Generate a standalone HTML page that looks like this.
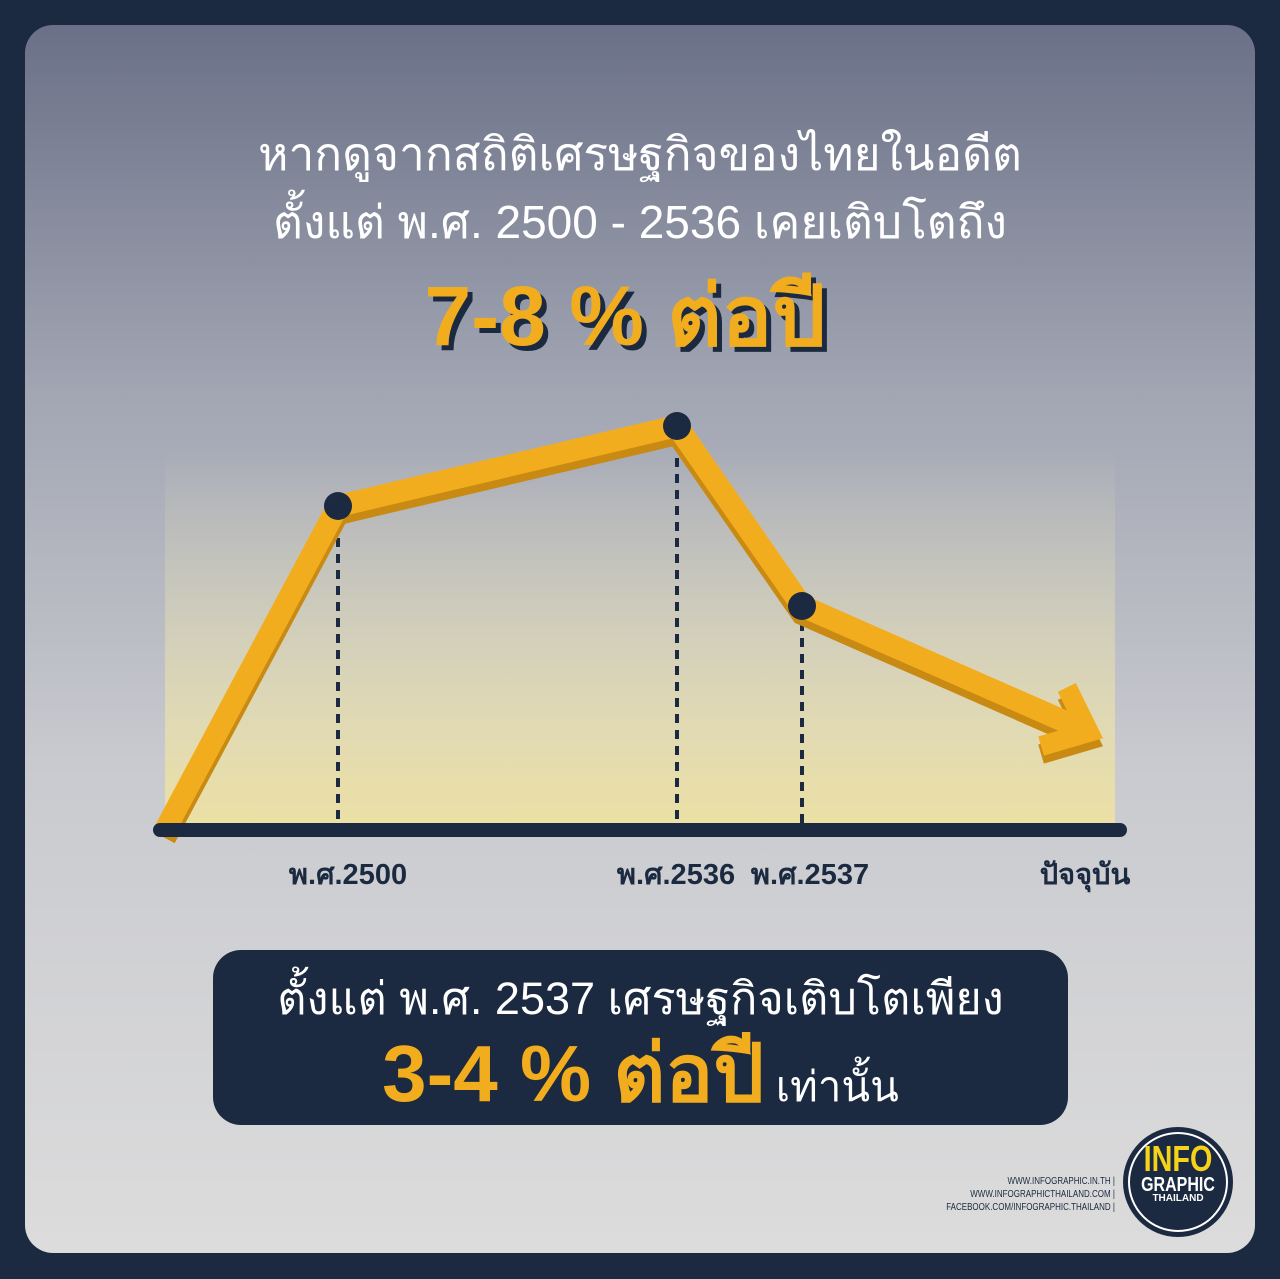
<!DOCTYPE html>
<html><head><meta charset="utf-8"><style>
body{margin:0;width:1280px;height:1279px;background:#1b2a40;overflow:hidden;font-family:"Liberation Sans","DejaVu Sans",sans-serif}
#card{position:absolute;left:25px;top:25px;width:1230px;height:1228px;border-radius:28px;background:linear-gradient(#6a7087 0%,#a2a6b3 30%,#c9cacf 60%,#dcdcdc 100%);overflow:hidden}
.t{position:absolute;left:0;width:1230px;text-align:center;white-space:nowrap}
</style></head><body>
<div id="card">
<div class="t" style="top:93px;font-size:46px;color:#fff">หากดูจากสถิติเศรษฐกิจของไทยในอดีต</div>
<div class="t" style="top:161px;font-size:46px;color:#fff">ตั้งแต่ พ.ศ. 2500 - 2536 เคยเติบโตถึง</div>
<div class="t" style="top:223px;left:-15px;font-size:84px;font-weight:bold;color:#f2ad1e;text-shadow:5px 5px 0 #1b2a40">7-8 % ต่อปี</div>
<div style="position:absolute;left:188px;top:925px;width:855px;height:175px;border-radius:28px;background:#1b2a40">
 <div style="position:absolute;top:12px;width:855px;text-align:center;font-size:45px;color:#fff;white-space:nowrap">ตั้งแต่ พ.ศ. 2537 เศรษฐกิจเติบโตเพียง</div>
 <div style="position:absolute;top:60px;width:855px;text-align:center;white-space:nowrap;color:#fff;font-size:42px"><span style="font-size:80px;font-weight:bold;color:#f2ad1e">3-4 % ต่อปี</span> เท่านั้น</div>
</div>
<div style="position:absolute;right:140px;top:1150px;text-align:right;font-size:10px;line-height:13px;color:#1b2a40;transform:scaleX(.8);transform-origin:right">WWW.INFOGRAPHIC.IN.TH |<br>WWW.INFOGRAPHICTHAILAND.COM |<br>FACEBOOK.COM/INFOGRAPHIC.THAILAND |</div>
<div style="position:absolute;left:1098px;top:1102px;width:110px;height:110px;border-radius:50%;background:#1b2a40;text-align:center;font-weight:bold">
 <div style="position:absolute;inset:5px;border:2px solid #fff;border-radius:50%"></div>
 <div style="position:relative;top:14px;color:#f5d31b;font-size:36px;line-height:36px;transform:scaleX(.8)">INFO</div>
 <div style="position:relative;top:12px;color:#fff;font-size:20px;line-height:20px;transform:scaleX(.8)">GRAPHIC</div>
 <div style="position:relative;top:10px;color:#fff;font-size:10px">THAILAND</div>
</div>
</div>
<svg id="chart" width="1280" height="1279" style="position:absolute;left:0;top:0">
<defs><linearGradient id="bg" x1="0" y1="0" x2="0" y2="1"><stop offset="0" stop-color="#e8e2b8" stop-opacity="0"/><stop offset="1" stop-color="#ece0a4"/></linearGradient></defs>
<rect x="165" y="450" width="950" height="380" fill="url(#bg)"/>
<g id="g"></g>
</svg>
<script>
const categories=["start","พ.ศ.2500","พ.ศ.2536","พ.ศ.2537","ปัจจุบัน"];
const values=[0,8.1,10.1,5.6,2.6];
const tickLabels=["","พ.ศ.2500","พ.ศ.2536","พ.ศ.2537","ปัจจุบัน"];
const slot=[165,338,677,802,1075];
function x(i){return slot[i];}
function y(v){return 830-v*40;}
const NS="http://www.w3.org/2000/svg",g=document.getElementById('g');
function mk(t,a){const e=document.createElementNS(NS,t);for(const k in a)e.setAttribute(k,a[k]);g.appendChild(e);return e;}
for(let i=1;i<4;i++){const d=mk('line',{x1:x(i),y1:y(values[i]),x2:x(i),y2:830,stroke:'#1b2a40','stroke-width':4,'stroke-dasharray':'9 7'});

}
const pts=values.map((v,i)=>x(i)+','+y(v)).join(' ');
const n=values.length-1,dx=x(n)-x(n-1),dy=y(values[n])-y(values[n-1]),L=Math.hypot(dx,dy),ux=dx/L,uy=dy/L;
const tip=[x(n)+ux*15,y(values[n])+uy*15];
const head=[[tip[0]-ux*38-uy*32,tip[1]-uy*38+ux*32],tip,[tip[0]-ux*38+uy*32,tip[1]-uy*38-ux*32]].map(p=>p.join(',')).join(' ');
const sh=mk('polyline',{points:pts,fill:'none',stroke:'#c88a12','stroke-width':22,'stroke-linejoin':'miter',transform:'translate(0,8)'});


const sh2=mk('polyline',{points:head,fill:'none',stroke:'#c88a12','stroke-width':20,transform:'translate(0,8)'});


const ln=mk('polyline',{points:pts,fill:'none',stroke:'#f2ad1e','stroke-width':22,'stroke-linejoin':'miter'});


const ah=mk('polyline',{points:head,fill:'none',stroke:'#f2ad1e','stroke-width':20});


const ax=mk('line',{x1:160,y1:830,x2:1120,y2:830,stroke:'#1b2a40','stroke-width':14,'stroke-linecap':'round'});


for(let i=1;i<4;i++){const c=mk('circle',{cx:x(i),cy:y(values[i]),r:14,fill:'#1b2a40'});

}
const lx=[0,348,676,810,1085];
tickLabels.forEach((t,i)=>{if(!t)return;const e=mk('text',{x:lx[i],y:884,'text-anchor':'middle','font-size':29,'font-weight':'bold',fill:'#1b2a40','font-family':'Liberation Sans, DejaVu Sans, sans-serif'});e.textContent=t;

});
</script>
</body></html>
